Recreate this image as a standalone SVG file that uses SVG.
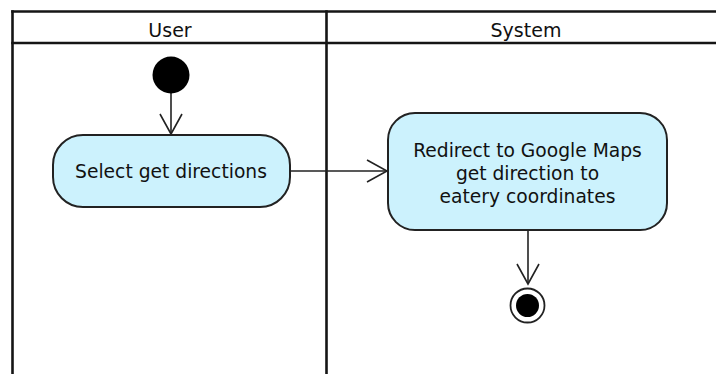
<svg xmlns="http://www.w3.org/2000/svg" width="716" height="374" viewBox="0 0 716 374">
  <style>
    .frame { stroke: #151515; stroke-width: 2.6; fill: none; }
    .lane-title { font-family: "DejaVu Sans", Verdana, sans-serif; font-size: 19px; fill: #111; text-anchor: middle; }
    .action { fill: #ccf2fd; stroke: #222; stroke-width: 2; }
    .action-text { font-family: "DejaVu Sans", Verdana, sans-serif; font-size: 18.7px; fill: #111; text-anchor: middle; }
    .flow { stroke: #222; stroke-width: 1.6; fill: none; }
  </style>
  <defs>
    <marker id="open-arrow" viewBox="-23 -13 25 26" refX="0" refY="0" markerUnits="userSpaceOnUse" markerWidth="25" markerHeight="26" orient="auto" overflow="visible">
      <path d="M-20,-11 L0,0 L-20,11" fill="none" stroke="#222" stroke-width="1.6"/>
    </marker>
  </defs>
  <rect width="716" height="374" fill="#ffffff"/>

  <!-- swimlane frame -->
  <g id="swimlanes">
    <line class="frame" x1="11.2" y1="11.5" x2="716" y2="11.5"/>
    <line class="frame" x1="11.2" y1="43" x2="716" y2="43"/>
    <line class="frame" x1="12.5" y1="10.2" x2="12.5" y2="374"/>
    <line class="frame" x1="326.5" y1="10.2" x2="326.5" y2="374"/>
    <text class="lane-title" x="170" y="37">User</text>
    <text class="lane-title" x="526" y="37">System</text>
  </g>

  <!-- control flows -->
  <g id="connectors">
    <line class="flow" x1="171" y1="93" x2="171" y2="134" marker-end="url(#open-arrow)"/>
    <line class="flow" x1="290" y1="171" x2="387" y2="171" marker-end="url(#open-arrow)"/>
    <line class="flow" x1="528" y1="231" x2="528" y2="284" marker-end="url(#open-arrow)"/>
  </g>

  <g id="start">
    <circle cx="171" cy="75" r="18.5" fill="#000"/>
  </g>

  <g id="select-directions">
    <rect class="action" x="53" y="135" width="237" height="72" rx="30" ry="30"/>
    <text class="action-text" x="171" y="177.5">Select get directions</text>
  </g>

  <g id="redirect-maps">
    <rect class="action" x="388" y="113" width="279" height="117" rx="27" ry="27"/>
    <text class="action-text" x="527.5" y="157">Redirect to Google Maps</text>
    <text class="action-text" x="527.5" y="180">get direction to</text>
    <text class="action-text" x="527.5" y="202.5">eatery coordinates</text>
  </g>

  <g id="end">
    <circle cx="527.5" cy="305.5" r="17" fill="#fff" stroke="#222" stroke-width="1.8"/>
    <circle cx="527.5" cy="305.5" r="11.5" fill="#000"/>
  </g>
</svg>
